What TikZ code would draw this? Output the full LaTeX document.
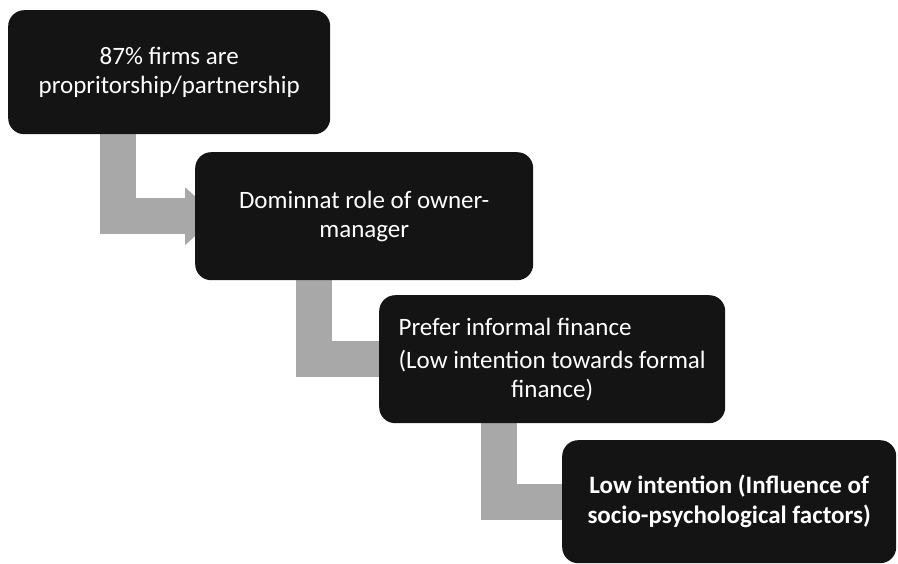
\documentclass[tikz,border=0pt]{standalone}
\usepackage{fontspec}
\usepackage{calc}
\setmainfont{Carlito}
\usetikzlibrary{arrows.meta,calc,backgrounds}
\definecolor{boxfill}{HTML}{141414}
\definecolor{flowgray}{HTML}{A8A8A8}
\tikzset{
  stepbox/.style={fill=boxfill, rounded corners=16pt, text=white, anchor=north west,
    inner sep=0pt, align=center, font=\fontsize{25}{29}\selectfont},
  flow/.style={draw=flowgray, line width=36pt, line join=miter,
    -{Triangle[length=32pt,width=56pt]}},
}
\begin{document}
\begin{tikzpicture}[x=1pt,y=1pt]
\useasboundingbox (0,0) rectangle (898,-564);

% the four stages, stepping down to the right
\node[stepbox, minimum width=322pt, minimum height=124pt] (b1) at (8,-10)
  {87\% firms are\\propritorship/partnership};
\node[stepbox, minimum width=338pt, minimum height=128pt] (b2) at (195,-152)
  {Dominnat role of owner-\\manager};
\node[stepbox, minimum width=346pt, minimum height=128pt] (b3) at (379,-295)
  {\makebox[\widthof{(Low intention towards formal}][l]{Prefer informal finance}\\[4pt]
   (Low intention towards formal\\finance)};
\node[stepbox, minimum width=334pt, minimum height=123pt, font=\fontsize{25}{30}\selectfont\bfseries] (b4) at (562,-440)
  {Low intention (Influence of\\socio-psychological factors)};

% bent grey arrows running behind the boxes
\begin{scope}[on background layer]
  \draw[flow] ($(b1.south west)+(109.5,6)$) |- ($(b2.west)+(22,0)$);
  \draw[flow] ($(b2.south west)+(118.5,6)$) |- ($(b3.west)+(38,0)$);
  \draw[flow] ($(b3.south west)+(119.5,6)$) |- ($(b4.west)+(38,0)$);
\end{scope}
\end{tikzpicture}
\end{document}
